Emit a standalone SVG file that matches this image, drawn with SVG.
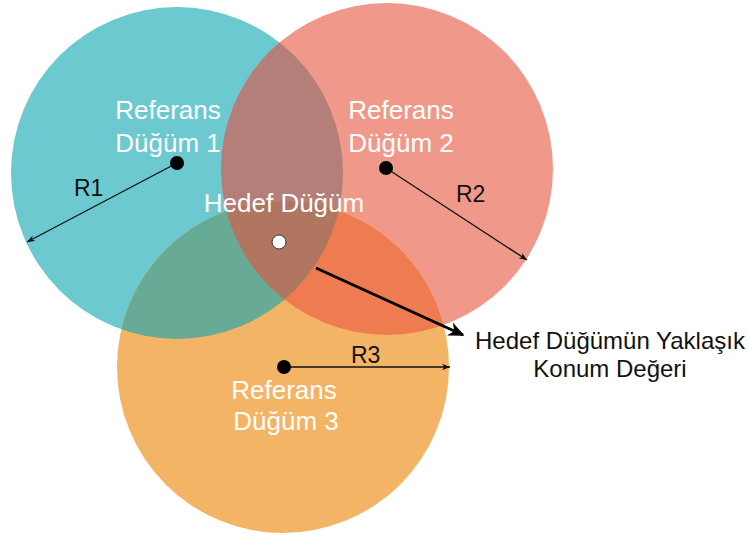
<svg xmlns="http://www.w3.org/2000/svg" width="748" height="535" viewBox="0 0 748 535">
<style>
.lbl{font-family:"Liberation Sans",Arial,sans-serif;font-size:26px;fill:#ffffff;text-anchor:middle}
.rl{font-family:"Liberation Sans",Arial,sans-serif;font-size:23px;fill:#111111}
.out{font-family:"Liberation Sans",Arial,sans-serif;font-size:24px;fill:#111111;text-anchor:middle}
.thin{stroke:#111111;stroke-width:1.3;fill:none}
.dot{fill:#000000}
</style>
<defs>
<clipPath id="c1"><circle cx="177" cy="173" r="166"/></clipPath>
<clipPath id="c2"><circle cx="387" cy="169" r="166"/></clipPath>
<marker id="ah" viewBox="0 0 10 10" refX="10" refY="5" markerWidth="8" markerHeight="8" markerUnits="userSpaceOnUse" orient="auto"><path d="M0,1 L10,5 L0,9 L3,5 z" fill="#111111"/></marker>
<marker id="ahb" viewBox="0 0 10 10" refX="9" refY="5" markerWidth="16" markerHeight="16" markerUnits="userSpaceOnUse" orient="auto"><path d="M0,0.5 L10,5 L0,9.5 L3,5 z" fill="#000000"/></marker>
</defs>
<rect width="748" height="535" fill="#ffffff"/>
<g id="regions">
<circle cx="177" cy="173" r="166" fill="#6CC9D0"/>
<circle cx="387" cy="169" r="166" fill="#F0998B"/>
<circle cx="283" cy="367" r="166" fill="#F3B565"/>
<circle cx="387" cy="169" r="166" fill="#B37F78" clip-path="url(#c1)"/>
<circle cx="283" cy="367" r="166" fill="#67AA95" clip-path="url(#c1)"/>
<circle cx="283" cy="367" r="166" fill="#EE7C50" clip-path="url(#c2)"/>
<g clip-path="url(#c1)"><circle cx="283" cy="367" r="166" fill="#B07660" clip-path="url(#c2)"/></g>
</g>
<g id="connectors">
<line class="thin" x1="177" y1="163" x2="27" y2="242" marker-end="url(#ah)"/>
<line class="thin" x1="386" y1="168" x2="527" y2="260" marker-end="url(#ah)"/>
<line class="thin" x1="284" y1="367" x2="450" y2="367" marker-end="url(#ah)"/>
<line x1="316" y1="268" x2="463" y2="335" stroke="#000000" stroke-width="3" marker-end="url(#ahb)"/>
</g>
<g id="ref1">
<circle class="dot" cx="177" cy="163" r="7"/>
<text class="lbl" x="168" y="119">Referans</text>
<text class="lbl" x="168" y="152">Düğüm 1</text>
<text class="rl" x="74" y="196">R1</text>
</g>
<g id="ref2">
<circle class="dot" cx="386" cy="168" r="7"/>
<text class="lbl" x="401" y="119">Referans</text>
<text class="lbl" x="401" y="152">Düğüm 2</text>
<text class="rl" x="456" y="202">R2</text>
</g>
<g id="ref3">
<circle class="dot" cx="284" cy="367" r="7"/>
<text class="lbl" x="284" y="399">Referans</text>
<text class="lbl" x="286" y="430">Düğüm 3</text>
<text class="rl" x="351" y="363">R3</text>
</g>
<g id="target">
<circle cx="279" cy="242" r="7" fill="#ffffff" stroke="#333333" stroke-width="1"/>
<text class="lbl" x="284" y="212">Hedef Düğüm</text>
</g>
<g id="estimate">
<text class="out" x="610" y="349">Hedef Düğümün Yaklaşık</text>
<text class="out" x="610" y="377">Konum Değeri</text>
</g>
</svg>
